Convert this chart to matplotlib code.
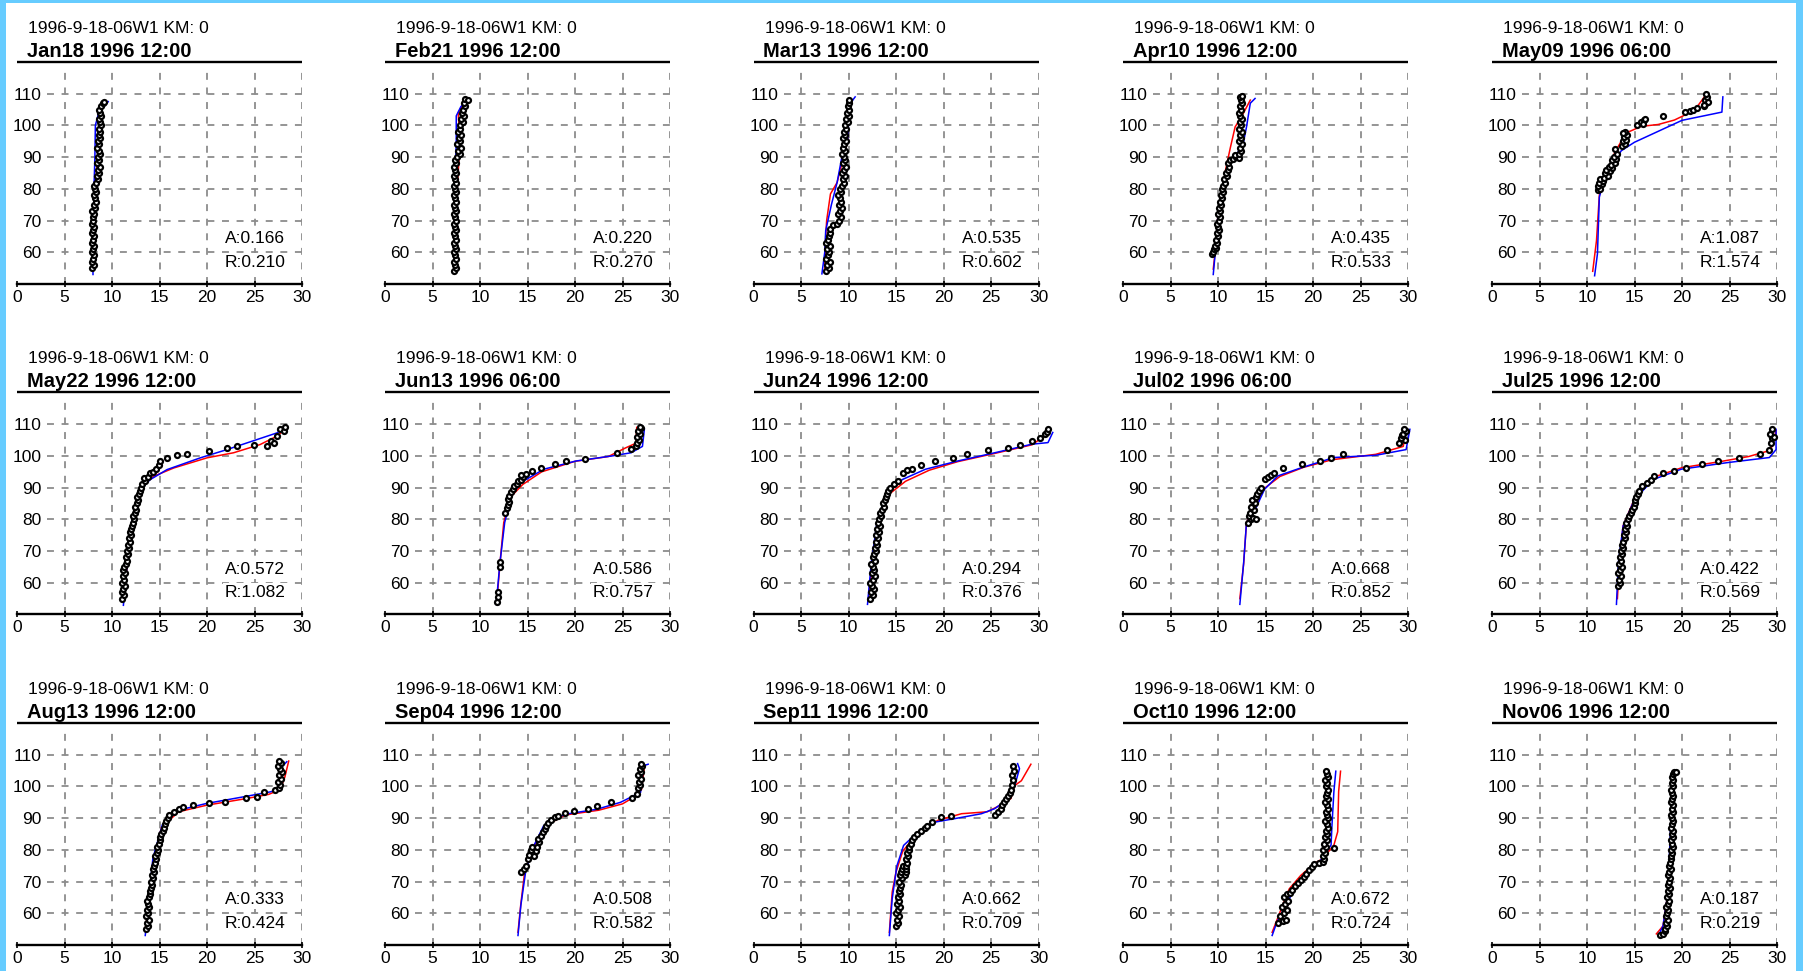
import matplotlib
matplotlib.use("Agg")
import matplotlib.pyplot as plt
from matplotlib.patches import Rectangle

plt.rcParams["font.family"] = ["Liberation Sans", "DejaVu Sans"]
plt.rcParams["lines.scale_dashes"] = False

# ---------------- data (x = value, y = level) ----------------
SUBTITLE = "1996-9-18-06W1 KM: 0"
TITLES = ["Jan18 1996 12:00", "Feb21 1996 12:00", "Mar13 1996 12:00", "Apr10 1996 12:00", "May09 1996 06:00",
          "May22 1996 12:00", "Jun13 1996 06:00", "Jun24 1996 12:00", "Jul02 1996 06:00", "Jul25 1996 12:00",
          "Aug13 1996 12:00", "Sep04 1996 12:00", "Sep11 1996 12:00", "Oct10 1996 12:00", "Nov06 1996 12:00"]
A_VALUES = [0.166, 0.220, 0.535, 0.435, 1.087, 0.572, 0.586, 0.294, 0.668, 0.422, 0.333, 0.508, 0.662, 0.672, 0.187]
R_VALUES = [0.210, 0.270, 0.602, 0.533, 1.574, 1.082, 0.757, 0.376, 0.852, 0.569, 0.424, 0.582, 0.709, 0.724, 0.219]
X_TICKS = [0, 5, 10, 15, 20, 25, 30]
Y_TICKS = [60, 70, 80, 90, 100, 110]

JAN18_OBS = [(7.9,55),(8.1,56),(7.9,57),(8.0,58),(8.1,59),(7.9,60),(8.0,61),(8.1,62),(7.9,63),(8.0,64),(8.1,65),(7.9,66),(8.0,67),(8.1,68),(7.9,69),(8.0,70),(8.0,71),(8.1,72),(7.9,73),(8.2,74),(8.1,75),(8.3,76),(8.2,77),(8.1,78),(8.3,79),(8.2,80),(8.1,81),(8.3,82),(8.5,83),(8.4,84),(8.6,85),(8.5,86),(8.7,87),(8.4,88),(8.6,89),(8.5,90),(8.7,91),(8.6,92),(8.4,93),(8.6,94),(8.5,95),(8.7,96),(8.6,97),(8.7,98),(8.6,99),(8.8,100),(8.7,101),(8.6,102),(8.8,103),(8.7,104),(8.6,105),(8.8,106),(9.0,107),(9.2,107.5)]
JAN18_RED = [(8.0,55),(8.1,70),(8.3,82),(8.6,95),(8.8,104),(9.2,107)]
JAN18_BLUE = [(8.0,53),(8.0,60),(8.05,70),(8.1,80),(8.2,90),(8.25,100),(8.6,104),(9.6,107.5)]

FEB21_OBS = [(7.3,54),(7.5,55),(7.4,56),(7.3,57),(7.5,58),(7.4,59),(7.3,60),(7.5,61),(7.4,62),(7.3,63),(7.5,64),(7.4,65),(7.3,66),(7.5,67),(7.4,68),(7.3,69),(7.5,70),(7.4,71),(7.3,72),(7.5,73),(7.4,74),(7.3,75),(7.5,76),(7.4,77),(7.3,78),(7.5,79),(7.4,80),(7.3,81),(7.5,82),(7.4,83),(7.3,84),(7.5,85),(7.4,86),(7.3,87),(7.5,88),(7.4,89),(7.6,90),(7.9,91),(7.7,92),(8.0,93),(7.6,94),(7.9,95),(7.8,96),(8.0,97),(7.7,98),(7.9,99),(7.9,100),(8.2,101),(8.0,102),(8.3,103),(8.1,104),(8.2,105),(8.4,106),(8.3,107),(8.4,108.3),(8.7,108)]
FEB21_RED = [(7.4,54),(7.5,75),(7.8,90),(7.9,95),(7.7,104),(8.3,107),(8.7,108.3)]
FEB21_BLUE = [(7.35,53.5),(7.35,70),(7.4,84),(7.5,95),(7.5,103),(8.0,106),(8.9,108)]

MAR13_OBS = [(7.6,54),(7.9,55),(7.7,56),(8.0,57),(7.6,58),(7.8,59),(7.9,60),(7.7,61),(8.0,62),(7.6,63),(7.8,64),(7.9,65),(8.0,66),(8.0,67.5),(8.4,68.5),(8.8,69),(9.0,70),(9.2,71),(8.9,72),(9.1,73),(9.3,74),(9.0,75),(9.2,76),(9.1,77),(8.9,78),(9.2,79),(9.1,80),(9.3,81),(9.5,82),(9.4,83),(9.6,84),(9.3,85),(9.5,86),(9.7,87),(9.4,88),(9.6,89),(9.5,90),(9.3,91),(9.6,92),(9.4,93),(9.5,94),(9.7,95),(9.4,96),(9.6,97),(9.5,98),(9.7,99),(9.6,100),(9.9,101),(9.7,102),(10.0,103),(9.8,104),(10.1,105),(9.9,106),(10.0,107),(10.1,108)]
MAR13_RED = [(7.5,55),(7.6,65),(7.7,70),(8.1,78.4),(8.8,82),(9.3,88),(9.9,95),(9.95,100),(10.1,105),(10.4,108)]
MAR13_BLUE = [(7.2,53.2),(7.5,60),(7.6,66.8),(8.2,75),(8.8,82),(9.3,90),(9.9,95),(10.0,100.5),(10.2,107),(10.7,109)]

APR10_OBS = [(9.4,59.5),(9.5,60),(9.6,61),(9.8,61.5),(9.7,62),(9.9,63),(9.8,64),(10.0,65),(9.9,66),(10.1,67),(10.0,68),(9.9,69),(10.1,70),(10.2,71),(10.0,72),(10.2,73),(10.1,74),(10.3,75),(10.2,76),(10.4,77),(10.3,78),(10.5,79),(10.4,80),(10.5,81),(10.7,82),(10.6,83),(10.9,84),(10.8,85),(11.0,86),(11.2,87),(11.1,88),(11.3,89),(11.6,89.5),(11.9,90),(12.2,89.8),(11.8,90.6),(12.2,91),(12.4,92),(12.3,93),(12.5,94),(12.2,95),(12.4,96),(12.3,97),(12.5,98),(12.2,99),(12.4,100),(12.3,101),(12.5,102),(12.3,103),(12.2,104),(12.4,105),(12.3,106),(12.5,107),(12.4,108),(12.3,109),(12.5,109.3)]
APR10_RED = [(9.5,54.7),(9.7,60),(10.0,72),(10.5,80),(10.8,86),(11.3,93),(11.8,99.5),(12.7,104),(13.4,108)]
APR10_BLUE = [(9.5,53),(9.7,59.5),(10.0,72),(10.6,80.5),(11.3,89),(12.0,91),(12.7,95),(13.0,99.5),(13.4,107),(13.9,108.5)]

MAY09_OBS = [(11.2,79.5),(11.4,80),(11.2,81),(11.6,81.5),(11.3,82),(11.7,82.5),(11.4,83),(11.8,83.5),(12.2,84),(11.9,85),(12.4,85.5),(12.0,86),(12.6,86.5),(12.3,87),(12.5,87.5),(12.9,88),(12.6,89),(13.1,89.5),(12.8,90),(13.2,91),(12.9,92.5),(13.7,93.5),(14.0,94),(13.8,95),(14.1,95.5),(13.9,96.5),(14.2,97),(14.0,98),(13.8,97.5),(15.3,100),(15.7,101),(16.0,101.8),(15.9,100.5),(16.1,102),(18.0,103),(20.3,104.2),(20.8,104.6),(21.2,105),(21.6,105.4),(22.3,106),(22.5,107),(22.4,108),(22.6,109),(22.5,109.8),(22.7,107.5),(22.3,106.5)]
MAY09_RED = [(10.6,54),(11.0,63.7),(11.3,78),(11.8,83),(12.9,91.3),(13.6,95),(14.1,97.6),(15.7,99.7),(17.5,100.3),(19.2,101.7),(21.3,104.7),(22.6,110)]
MAY09_BLUE = [(10.8,52.6),(11.1,59.5),(11.3,77.4),(11.8,83),(13.6,92),(15.0,94.7),(20.0,101.6),(24.2,104.2),(24.3,109)]

MAY22_OBS = [(11.1,55),(11.3,56),(11.0,57),(11.2,58),(11.4,59),(11.1,60),(11.3,61),(11.2,62),(11.4,63),(11.2,64),(11.3,65),(11.5,66),(11.6,67),(11.5,68),(11.7,69),(11.6,70),(11.8,71),(11.7,72),(11.9,73),(11.8,74),(12.0,75),(11.9,76),(12.0,77),(12.1,78),(12.2,79),(12.3,80),(12.2,81),(12.4,82),(12.5,83),(12.4,84),(12.6,85),(12.7,86),(12.6,87),(12.8,88),(12.9,89),(13.0,90),(13.2,91),(13.5,92),(13.4,93),(13.8,93.5),(14.0,94.5),(14.3,95),(14.6,96),(14.9,97),(15.1,98.4),(15.8,99.4),(16.8,100.2),(17.9,100.5),(20.2,101.5),(22.1,102.6),(23.2,103),(24.9,103.6),(26.3,103),(26.7,104.7),(27.0,104),(27.4,106.3),(27.7,108.4),(28.1,108),(28.2,109)]
MAY22_RED = [(11.2,55),(11.9,72.4),(12.5,82),(13.3,91),(14.4,93.6),(16.5,96.2),(20.0,99.4),(22.8,101),(25.6,103.6),(27.4,106.3),(28.2,108.4)]
MAY22_BLUE = [(11.2,52.9),(11.6,66),(12.1,79.8),(13.0,89.4),(14.0,92.5),(15.8,95.7),(19.3,99.4),(22.1,102),(25.3,105.2),(27.4,107.3),(28.1,109)]

JUN13_OBS = [(11.8,54),(11.9,55.5),(11.9,57),(12.1,65),(12.1,66.5),(12.6,82),(12.8,83.5),(12.9,84.5),(13.0,85.5),(12.9,86.5),(13.1,87.5),(13.3,88.5),(13.5,89.5),(13.6,90.5),(13.9,91),(14.0,92),(14.3,92.5),(14.5,93.5),(14.3,94),(14.8,94.2),(15.5,95.3),(16.4,96.3),(17.9,97.4),(19.1,98.4),(21.0,99.0),(24.4,101),(25.9,102.1),(26.4,103),(26.5,104),(26.7,105),(26.5,106),(26.8,107),(26.6,108),(26.9,108.8),(26.8,109.2)]
JUN13_RED = [(11.8,55),(12.1,66),(12.5,79),(13.2,87),(14.5,91),(16.5,95),(20.0,98.3),(23.5,99.8),(25.3,102.5),(26.4,104),(26.5,109)]
JUN13_BLUE = [(11.7,53.2),(12.1,66.3),(12.6,79),(13.3,87.4),(14.3,91.6),(16.7,95.8),(20.1,98.4),(23.9,100),(25.9,101),(27.1,103),(27.3,108.4)]

JUN24_OBS = [(12.3,55),(12.6,56),(12.4,57),(12.7,58),(12.5,59),(12.3,60),(12.6,61),(12.8,62),(12.5,63),(12.7,64),(12.6,65),(12.4,66),(12.8,67),(12.6,68),(12.7,69),(12.9,70),(12.8,71),(13.0,72),(12.9,73),(13.1,74),(12.9,75),(13.2,76),(13.0,77),(13.3,78),(13.1,79),(13.2,80),(13.4,81),(13.3,82),(13.5,83),(13.7,84),(13.6,85),(13.8,86),(13.9,87),(14.0,88),(14.2,89),(14.4,90),(14.8,91),(15.2,92),(15.7,94.5),(16.2,95.5),(16.7,96),(17.6,97),(19.1,98.4),(21.0,99.4),(22.5,100.5),(24.7,101.9),(26.8,102.6),(28.0,103.4),(29.3,104.7),(30.2,105.5),(30.7,106.8),(30.9,107.5),(31.0,108.4)]
JUN24_RED = [(12.1,55),(12.5,66),(13.1,79),(14.3,88),(16.0,92),(18.5,95.5),(21.5,98.2),(25.4,100.8),(29.3,103.5),(31.0,107)]
JUN24_BLUE = [(12.0,53.2),(12.4,66.3),(13.0,79),(14.0,88.4),(15.7,92.6),(18.1,95.8),(21.5,98.4),(25.4,101),(29.3,103.7),(31.0,104.2),(31.5,107.4)]

JUL02_OBS = [(13.2,79),(13.5,80),(13.3,81),(13.7,80.5),(14.0,80),(13.4,82),(13.8,83),(13.5,84),(13.9,85),(13.6,86),(14.0,87),(14.1,88),(14.3,89),(14.5,90),(14.9,92.6),(15.3,93.5),(15.6,94),(15.9,94.7),(16.8,96.3),(18.8,97.4),(20.7,98.4),(21.9,99.5),(23.2,100.5),(27.8,102),(29.0,104.2),(29.7,105),(29.3,105.5),(29.4,106.5),(29.5,107),(29.8,107.8),(29.6,108.4)]
JUL02_RED = [(12.3,55),(12.7,66),(13.0,79),(13.8,84),(14.9,89.8),(16.5,93.5),(19.0,96.4),(22.0,98.8),(26.6,100.5),(29.5,103),(29.8,108)]
JUL02_BLUE = [(12.3,53.2),(12.7,66.3),(13.0,79),(13.9,83),(14.9,89.5),(16.3,93.7),(18.8,96.3),(22.2,99.5),(26.6,100.2),(29.8,102),(30.2,108.4)]

JUL25_OBS = [(13.3,59),(13.5,60),(13.4,61),(13.6,62),(13.3,63),(13.5,64),(13.7,65),(13.4,66),(13.6,67),(13.5,68),(13.7,69),(13.6,70),(13.8,71),(13.7,72),(13.8,73),(14.0,74),(13.9,75),(14.1,76),(14.0,77),(14.2,78),(14.1,79),(14.3,80),(14.4,81),(14.6,82),(14.7,83),(14.9,84),(15.0,85),(15.1,86),(15.2,87),(15.4,88),(15.5,89),(15.8,90.5),(16.3,91.5),(16.7,92.5),(17.0,93.7),(18.0,94.7),(19.2,95.3),(20.4,96.3),(22.1,97.4),(23.8,98.4),(26.0,99.5),(28.2,100.5),(29.2,102),(29.4,104),(29.5,105.5),(29.7,106),(29.3,107),(29.5,108.4)]
JUL25_RED = [(13.2,55),(13.4,66),(13.8,78),(15.0,86.5),(17.0,93.3),(20.0,96.3),(24.0,98.2),(27.0,99.8),(29.0,101.5),(29.5,103),(29.9,108)]
JUL25_BLUE = [(13.1,53.2),(13.3,66.3),(13.8,77.9),(15.0,86.3),(17.0,92.6),(19.9,95.8),(24.8,97.9),(29.2,99.5),(29.9,102),(29.9,108.4)]

AUG13_OBS = [(13.6,55),(13.8,56),(13.7,57),(13.9,58),(13.6,59),(13.8,60),(13.7,61),(13.9,62),(13.8,63),(13.7,64),(13.9,65),(14.0,66),(14.0,67),(14.1,68),(14.2,69),(14.1,70),(14.3,71),(14.2,72),(14.4,73),(14.3,74),(14.4,75),(14.5,76),(14.6,77),(14.5,78),(14.7,79),(14.8,80),(14.7,81),(14.9,82),(15.0,83),(15.1,84),(15.2,85),(15.4,86),(15.5,87),(15.6,88),(15.7,89),(15.9,90),(16.0,91),(16.5,92),(17.0,93),(17.5,93.5),(18.5,94),(20.2,94.7),(21.9,95.2),(24.1,96.3),(25.3,96.8),(26.0,98.3),(27.2,98.8),(27.6,99.5),(27.7,100.5),(27.5,101.5),(27.8,102.5),(27.6,103.5),(27.9,104.5),(27.7,105.5),(27.5,106.5),(27.8,107.5),(27.6,108)]
AUG13_RED = [(13.5,55),(14.0,65),(14.3,76),(15.2,87),(17.0,92),(20.0,94.1),(24.0,96.1),(26.5,97.5),(27.7,99),(28.2,103),(28.6,108)]
AUG13_BLUE = [(13.5,53),(13.9,64.6),(14.3,77.3),(15.3,87.9),(17.0,92.5),(19.9,94.6),(23.8,96.7),(26.7,98.3),(27.7,99.3),(27.9,106.2),(28.4,107.8)]

SEP04_OBS = [(14.3,73),(14.6,74),(14.8,75),(15.0,77),(15.2,78.5),(15.4,80),(15.5,81),(15.7,78),(15.9,79.5),(16.0,81),(16.2,82.5),(16.1,83.5),(16.4,84.5),(16.6,85.5),(16.8,86.5),(16.9,87.5),(17.2,88.6),(17.5,89.5),(17.9,90.3),(18.2,90.7),(18.9,91.7),(19.9,92.3),(21.4,92.8),(22.3,93.8),(23.8,95),(26.0,96.5),(26.5,97.6),(26.6,99.6),(26.8,100.5),(26.7,101.5),(26.9,102.5),(26.6,103.5),(26.9,104.5),(26.8,105.5),(27.0,106.5),(26.9,107.2)]
SEP04_RED = [(14.0,54),(14.3,63),(14.7,73),(15.5,80),(16.8,87.5),(19.0,91),(22.5,92.5),(25.0,94.5),(26.3,96.8),(27.0,99),(27.3,106)]
SEP04_BLUE = [(14.0,53),(14.3,62.5),(14.8,73),(15.5,80.3),(16.7,87.6),(18.9,91.2),(22.3,92.8),(24.8,95),(26.2,97.1),(26.9,98.1),(27.2,106.5),(27.7,107)]

SEP11_OBS = [(15.0,56),(15.2,57),(15.1,58),(15.3,59),(15.0,60),(15.2,61),(15.4,62),(15.1,63),(15.3,64),(15.2,65),(15.4,66),(15.3,67),(15.4,68),(15.5,69),(15.3,70),(15.6,71),(15.4,72),(15.5,73),(15.6,74),(15.7,75),(15.9,72),(16.0,73),(16.1,74),(16.0,75),(16.2,76),(16.1,77),(16.3,78),(16.2,79),(16.4,80),(16.4,81),(16.6,82),(16.7,83),(16.9,84),(17.2,85),(17.6,86),(18.0,86.8),(18.3,87.6),(18.8,88.7),(19.7,90.3),(20.8,90.8),(25.4,91),(25.7,92),(26.0,93),(26.2,94),(26.4,95),(26.6,96),(26.8,97),(27.0,98),(27.1,99),(27.2,100.5),(27.3,102),(27.2,103.5),(27.4,105),(27.3,106.3)]
SEP11_RED = [(14.3,54),(14.6,66.7),(15.0,73),(15.7,79.5),(17.3,85.6),(19.4,89.3),(21.9,91.4),(24.6,92),(26.0,94.1),(27.1,96.2),(27.5,100.3),(28.2,101.8),(29.2,107)]
SEP11_BLUE = [(14.3,53),(14.6,64.6),(15.1,75),(15.8,81.4),(17.3,85.6),(19.0,88.7),(21.1,89.8),(24.0,91.4),(25.4,93),(26.8,96.1),(27.5,100.3),(28.0,105.6),(27.8,107.2)]

OCT10_OBS = [(16.3,57),(16.8,57.5),(17.2,58),(16.5,59),(16.9,60),(17.3,61),(16.7,62),(17.1,63),(17.4,64),(16.9,65),(17.3,66),(17.6,66.5),(17.8,67.5),(18.1,68.5),(18.4,69.5),(18.7,70.5),(19.0,71.5),(19.3,72.5),(19.6,73.5),(19.9,74.5),(20.1,75.5),(20.6,75.8),(21.0,76.2),(21.2,77),(21.0,78),(21.3,79),(21.1,80),(21.4,81),(21.2,82),(21.5,83),(21.3,84),(21.5,85),(21.4,86),(21.6,87),(21.5,88),(21.3,89),(21.6,90),(21.5,91),(21.4,92),(21.6,93),(21.5,94),(21.3,95),(21.6,96),(21.4,97),(21.5,98),(21.6,99),(21.4,100),(21.5,101),(21.3,102),(21.6,103),(21.5,104),(21.4,105),(22.2,80.7)]
OCT10_RED = [(15.7,54),(16.8,62.5),(17.5,67.7),(18.7,71.9),(20.1,75.6),(21.0,77.2),(22.2,81.5),(22.6,85.7),(22.7,98.4),(22.9,104.8)]
OCT10_BLUE = [(15.7,53),(16.2,57.2),(17.3,63.5),(18.3,68.8),(19.8,74.1),(20.8,76.7),(21.9,81.5),(22.0,87.9),(22.2,98.4),(22.4,104.8)]

NOV06_OBS = [(17.7,53),(18.0,53.5),(18.2,54.5),(18.2,55),(18.4,56),(18.3,57),(18.5,58),(18.3,59),(18.4,60),(18.5,61),(18.3,62),(18.5,63),(18.6,64),(18.4,65),(18.6,66),(18.5,67),(18.7,68),(18.5,69),(18.6,70),(18.7,71),(18.5,72),(18.6,73),(18.8,74),(18.6,75),(18.7,76),(18.8,77),(18.8,78),(18.9,79),(18.8,80),(19.0,81),(18.9,82),(18.8,83),(19.0,84),(18.9,85),(19.0,86),(18.8,87),(18.9,88),(19.0,89),(18.9,90),(18.8,91),(19.0,92),(18.9,93),(19.0,94),(18.8,95),(18.9,96),(19.0,97),(18.9,98),(18.8,99),(19.0,100),(18.9,101),(19.0,102),(18.9,103),(19.0,104),(19.2,104.7),(19.4,104.6)]
NOV06_RED = [(17.3,53.5),(18.0,56),(18.5,66),(18.8,80),(19.0,95),(19.1,104.5)]
NOV06_BLUE = [(17.6,53.5),(18.0,56),(18.5,66),(18.7,80),(18.9,95),(19.0,104),(19.4,105)]

OBS = [JAN18_OBS, FEB21_OBS, MAR13_OBS, APR10_OBS, MAY09_OBS, MAY22_OBS, JUN13_OBS, JUN24_OBS,
       JUL02_OBS, JUL25_OBS, AUG13_OBS, SEP04_OBS, SEP11_OBS, OCT10_OBS, NOV06_OBS]
RED = [JAN18_RED, FEB21_RED, MAR13_RED, APR10_RED, MAY09_RED, MAY22_RED, JUN13_RED, JUN24_RED,
       JUL02_RED, JUL25_RED, AUG13_RED, SEP04_RED, SEP11_RED, OCT10_RED, NOV06_RED]
BLUE = [JAN18_BLUE, FEB21_BLUE, MAR13_BLUE, APR10_BLUE, MAY09_BLUE, MAY22_BLUE, JUN13_BLUE, JUN24_BLUE,
        JUL02_BLUE, JUL25_BLUE, AUG13_BLUE, SEP04_BLUE, SEP11_BLUE, OCT10_BLUE, NOV06_BLUE]

# ---------------- layout (pixels) ----------------
W, H = 1803, 971
COL_LEFT = [17, 385, 753.5, 1123, 1492]
ROW_AXIS = [284, 614.5, 945]
PANEL_W, PANEL_H = 285, 222
GRID = "#8c8c8c"

fig = plt.figure(figsize=(W / 100, H / 100), dpi=100)
fig.patch.set_facecolor("#66ccff")
bg = fig.add_axes([0, 0, 1, 1], zorder=-10)
bg.set_xlim(0, W)
bg.set_ylim(H, 0)
bg.axis("off")
bg.add_patch(Rectangle((6, 3), 1790, H, facecolor="white", edgecolor="none"))

for i in range(15):
    r, c = divmod(i, 5)
    ax = fig.add_axes([COL_LEFT[c] / W, 1 - ROW_AXIS[r] / H, PANEL_W / W, PANEL_H / H])
    ax.set_xlim(0, 30)
    ax.set_ylim(50, 120)
    ax.patch.set_visible(False)
    for s in ["top", "left", "right"]:
        ax.spines[s].set_visible(False)
    ax.spines["bottom"].set_linewidth(1.7)
    ax.set_xticks(X_TICKS)
    ax.set_yticks(Y_TICKS)
    ax.tick_params(axis="x", direction="inout", length=5, width=1.2, pad=1.5, labelsize=12.5)
    ax.tick_params(axis="y", length=0, pad=-17.8, labelsize=12.5)

    ax.hlines(Y_TICKS, 3.2, 30, colors=GRID, linestyles=(0, (5, 5.5)), lw=1.3, zorder=1)
    ax.vlines(X_TICKS[1:], 50, 117.5, colors=GRID, linestyles=(0, (5, 5.5)), lw=1.3, zorder=1)
    ax.hlines(120, 0, 30, colors="black", lw=1.7, clip_on=False)

    rx, ry = zip(*RED[i])
    bx, by = zip(*BLUE[i])
    ox, oy = zip(*OBS[i])
    ax.plot(rx, ry, color="#ff0000", lw=1.1, clip_on=False, zorder=2)
    ax.plot(bx, by, color="#0000ff", lw=1.1, clip_on=False, zorder=2.1)
    ax.plot(ox, oy, "o", ms=3.6, mfc="white", mec="black", mew=1.6, clip_on=False, zorder=3)

    ax.text(1.16, 129.2, SUBTITLE, fontsize=12.5, ha="left", va="baseline", clip_on=False)
    ax.text(1.05, 121.6, TITLES[i], fontsize=14.5, fontweight="bold", ha="left", va="baseline", clip_on=False)
    box = dict(facecolor="white", edgecolor="none", pad=1.5)
    ax.text(21.9, 62.9, "A:%.3f" % A_VALUES[i], fontsize=12.5, ha="left", va="baseline", bbox=box, zorder=4)
    ax.text(21.9, 55.4, "R:%.3f" % R_VALUES[i], fontsize=12.5, ha="left", va="baseline", bbox=box, zorder=4)

fig.savefig("out.png", dpi=100, facecolor=fig.get_facecolor())
